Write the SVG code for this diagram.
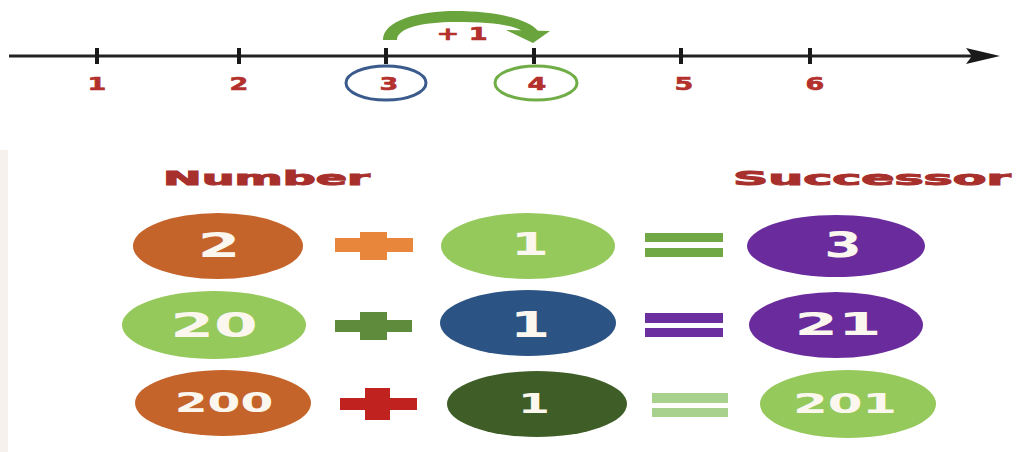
<svg xmlns="http://www.w3.org/2000/svg" width="1018" height="452" viewBox="0 0 1018 452">
<style>
.tick{stroke:#1a1a1a;stroke-width:4}
.nl{font-family:"DejaVu Sans",sans-serif;font-weight:bold;font-size:18px;fill:#b3302c;stroke:#b3302c;stroke-width:0.6;text-anchor:middle}
.head{font-family:"DejaVu Sans",sans-serif;font-weight:bold;font-size:20px;fill:#a8302c;stroke:#a8302c;stroke-width:1}
.num{font-family:"DejaVu Sans",sans-serif;font-weight:bold;fill:#fbf7ef;text-anchor:middle}
</style>
<rect x="0" y="0" width="1018" height="452" fill="#ffffff"/>
<rect x="0" y="150" width="8" height="302" fill="#f6f1ec"/>
<g id="number-line">
<line x1="9" y1="56" x2="990" y2="56" stroke="#222" stroke-width="3"/>
<polygon points="966,48 1000,56 966,64 972,56" fill="#1a1a1a"/>
<line class="tick" x1="97" y1="48" x2="97" y2="64"/>
<line class="tick" x1="239" y1="48" x2="239" y2="64"/>
<line class="tick" x1="386" y1="48" x2="386" y2="64"/>
<line class="tick" x1="534" y1="48" x2="534" y2="64"/>
<line class="tick" x1="681" y1="48" x2="681" y2="64"/>
<line class="tick" x1="810" y1="48" x2="810" y2="64"/>
<text class="nl" transform="translate(97,90) scale(1.5,1)">1</text>
<text class="nl" transform="translate(239,90) scale(1.5,1)">2</text>
<text class="nl" transform="translate(389,90) scale(1.5,1)">3</text>
<text class="nl" transform="translate(537,90) scale(1.5,1)">4</text>
<text class="nl" transform="translate(684,90) scale(1.5,1)">5</text>
<text class="nl" transform="translate(815,90) scale(1.5,1)">6</text>
<ellipse cx="386" cy="83" rx="40" ry="17" fill="none" stroke="#3b5b8c" stroke-width="3"/>
<ellipse cx="536" cy="83" rx="41" ry="17" fill="none" stroke="#70ad47" stroke-width="3"/>
</g>
<g id="jump">
<path d="M383,40 C383,20 420,11 455,11 C492,11 528,18 538,31 L522,31 C510,24 488,22 455,22 C422,22 397,28 397,40 Z" fill="#6aa43c"/>
<polygon points="506,30 550,31 533,43" fill="#6aa43c"/>
<text x="0" y="0" font-family="DejaVu Sans, sans-serif" font-weight="bold" font-size="17" fill="#b3302c" stroke="#b3302c" stroke-width="0.6" text-anchor="middle" transform="translate(462,40) scale(1.6,1)">+ 1</text>
</g>
<g id="headers">
<text class="head" transform="translate(163,185) scale(2.31,1)">Number</text>
<text class="head" transform="translate(733,185) scale(2.45,1)">Successor</text>
</g>
<g id="row1">
<ellipse cx="218" cy="246" rx="85" ry="33" fill="#c5642a"/>
<text class="num" font-size="34" transform="translate(219,257) scale(1.8,1)">2</text>
<rect x="335" y="238" width="78" height="14" fill="#e8873c"/>
<rect x="360" y="232" width="27" height="28" fill="#e8873c"/>
<ellipse cx="528" cy="246" rx="87" ry="33" fill="#96c95c"/>
<text class="num" font-size="32" transform="translate(530,255) scale(1.7,1)">1</text>
<rect x="645" y="233" width="78" height="9" fill="#70a845"/>
<rect x="645" y="248" width="78" height="9" fill="#70a845"/>
<ellipse cx="836" cy="246" rx="89" ry="31" fill="#6a2c9c"/>
<text class="num" font-size="36" transform="translate(843,257) scale(1.5,1)">3</text>
</g>
<g id="row2">
<ellipse cx="214" cy="325" rx="92" ry="34" fill="#96c95c"/>
<text class="num" font-size="34" transform="translate(214,337) scale(1.85,1)">20</text>
<rect x="335" y="320" width="77" height="12" fill="#5e8c3c"/>
<rect x="360" y="312" width="27" height="28" fill="#5e8c3c"/>
<ellipse cx="528" cy="323" rx="88" ry="33" fill="#2b5484"/>
<text class="num" font-size="36" transform="translate(530,337) scale(1.6,1)">1</text>
<rect x="645" y="313" width="78" height="10" fill="#6b2fa0"/>
<rect x="645" y="328" width="78" height="9" fill="#6b2fa0"/>
<ellipse cx="836" cy="325" rx="87" ry="33" fill="#6a2c9c"/>
<text class="num" font-size="32" transform="translate(838,335) scale(1.95,1)">21</text>
</g>
<g id="row3">
<ellipse cx="223" cy="403" rx="88" ry="33" fill="#c5642a"/>
<text class="num" font-size="27" transform="translate(224,412) scale(1.75,1)">200</text>
<rect x="340" y="398" width="77" height="12" fill="#c0231f"/>
<rect x="365" y="388" width="25" height="32" fill="#c0231f"/>
<ellipse cx="537" cy="404" rx="90" ry="33" fill="#3f5e27"/>
<text class="num" font-size="27" transform="translate(534,413) scale(1.7,1)">1</text>
<rect x="652" y="393" width="76" height="10" fill="#a9d18e"/>
<rect x="652" y="408" width="76" height="9" fill="#a9d18e"/>
<ellipse cx="848" cy="404" rx="88" ry="34" fill="#96c95c"/>
<text class="num" font-size="27" transform="translate(845,413) scale(1.85,1)">201</text>
</g>
</svg>
